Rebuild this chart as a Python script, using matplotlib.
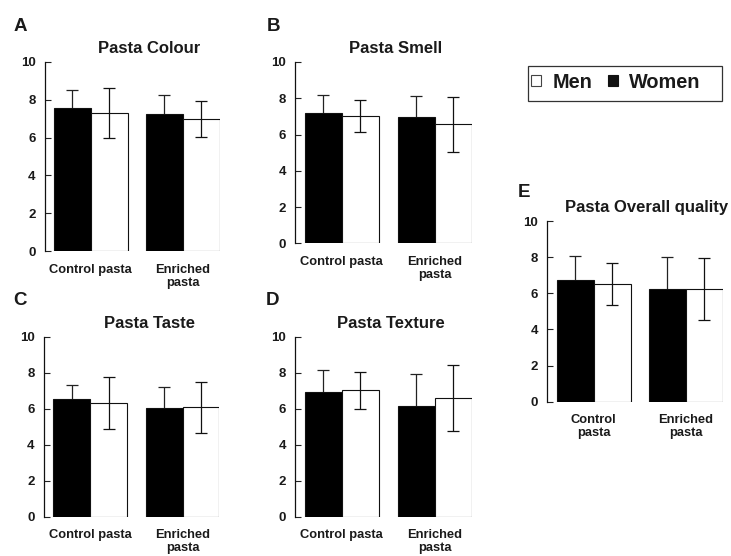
import matplotlib
matplotlib.use("Agg")
import matplotlib.pyplot as plt
from matplotlib.patches import Patch, Rectangle
import matplotlib.transforms as mtransforms
import numpy as np

plt.rcParams['font.family'] = ['Liberation Sans', 'DejaVu Sans']
plt.rcParams['font.weight'] = 'bold'

# ---------------- data ----------------
panel_letters = ["A", "B", "C", "D", "E"]
panel_titles = ["Pasta Colour", "Pasta Smell", "Pasta Taste", "Pasta Texture",
                "Pasta Overall quality"]
tick_labels_short = ["Control pasta", "Enriched\npasta"]
tick_labels_e = ["Control\npasta", "Enriched\npasta"]
series_names = ["Men", "Women"]

# Women (black bars)
women_colour = [7.55, 7.23]
women_colour_err = [0.95, 1.00]
women_smell = [7.20, 6.97]
women_smell_err = [1.00, 1.17]
women_taste = [6.54, 6.02]
women_taste_err = [0.77, 1.20]
women_texture = [6.91, 6.13]
women_texture_err = [1.22, 1.78]
women_overall = [6.73, 6.24]
women_overall_err = [1.35, 1.77]

# Men (white bars)
men_colour = [7.28, 6.97]
men_colour_err = [1.32, 0.96]
men_smell = [7.00, 6.56]
men_smell_err = [0.88, 1.50]
men_taste = [6.31, 6.07]
men_taste_err = [1.43, 1.42]
men_texture = [7.02, 6.61]
men_texture_err = [1.02, 1.83]
men_overall = [6.51, 6.24]
men_overall_err = [1.17, 1.72]

y_ticks = [0, 2, 4, 6, 8, 10]

# ---------------- layout ----------------
W, H = 731, 556
fig = plt.figure(figsize=(W / 100, H / 100), dpi=100)

# (left, bottom, width, height) in pixels, top-origin bottom
boxes = [
    (44.5, 251.0, 175.0, 189.0),
    (295.0, 243.3, 177.0, 181.3),
    (43.5, 516.7, 176.0, 180.0),
    (295.0, 516.7, 177.0, 180.0),
    (547.3, 401.7, 175.5, 180.7),
]
title_x = [0.60, 0.57, 0.60, 0.54, 0.565]
letter_pos = [(13.5, 30.7), (266.5, 30.7), (13.5, 305.0), (266.0, 305.0), (518.0, 196.7)]

women_all = [women_colour, women_smell, women_taste, women_texture, women_overall]
women_err_all = [women_colour_err, women_smell_err, women_taste_err,
                 women_texture_err, women_overall_err]
men_all = [men_colour, men_smell, men_taste, men_texture, men_overall]
men_err_all = [men_colour_err, men_smell_err, men_taste_err,
               men_texture_err, men_overall_err]
xlabels_all = [tick_labels_short] * 4 + [tick_labels_e]

txt = '#1a1a1a'
w = 0.4
x = np.arange(2)

for i in range(5):
    l, b, wd, ht = boxes[i]
    ax = fig.add_axes([l / W, 1 - b / H, wd / W, ht / H])
    ax.errorbar(x - w / 2, women_all[i], yerr=women_err_all[i], fmt='none',
                ecolor='#222222', elinewidth=0.9, capsize=4, capthick=0.9, zorder=1)
    ax.bar(x - w / 2, women_all[i], w, color='black', edgecolor='#111111',
           linewidth=0.8, zorder=2)
    ax.bar(x + w / 2, men_all[i], w, color='white', edgecolor='#111111',
           linewidth=0.8, zorder=2)
    ax.errorbar(x + w / 2, men_all[i], yerr=men_err_all[i], fmt='none',
                ecolor='#111111', elinewidth=0.9, capsize=4, capthick=0.9, zorder=3)
    ax.set_ylim(0, 10)
    ax.set_xlim(-w - 0.103, 1 + w)
    ax.set_yticks(y_ticks)
    ax.set_yticklabels([str(t) for t in y_ticks], fontsize=9.5, fontweight='bold', color=txt)
    ax.set_xticks(x)
    ax.set_xticklabels(xlabels_all[i], fontsize=9.3, fontweight='bold', color=txt,
                       linespacing=1.12)
    ax.tick_params(axis='y', direction='in', length=4, width=0.8, pad=6.5, colors='#222222')
    ax.tick_params(axis='y', labelcolor=txt)
    ax.tick_params(axis='x', length=0, pad=9)
    for s in ['top', 'right', 'bottom']:
        ax.spines[s].set_visible(False)
    ax.spines['left'].set_linewidth(0.9)
    ax.spines['left'].set_color('#111111')
    offs = mtransforms.offset_copy(ax.transAxes, fig=fig, x=0, y=9, units='dots')
    ax.text(title_x[i], 1.0, panel_titles[i], transform=offs, ha='center',
            va='baseline', fontsize=12, fontweight='bold', color=txt)
    lx, ly = letter_pos[i]
    fig.text(lx / W, 1 - ly / H, panel_letters[i], ha='left', va='baseline',
             fontsize=13.5, fontweight='bold', color=txt)

# legend box
fig.patches.append(Rectangle((528.3 / W, 1 - 101.0 / H), (721.7 - 528.3) / W, 35.3 / H,
                             transform=fig.transFigure, facecolor='white',
                             edgecolor='#333333', linewidth=0.9, zorder=0))
handles = [Patch(facecolor='white', edgecolor='#444444', linewidth=0.8),
           Patch(facecolor='#111111', edgecolor='#111111', linewidth=0.8)]
leg = fig.legend(handles, series_names, loc='center left',
                 bbox_to_anchor=(531 / W, 1 - 82.0 / H), ncol=2,
                 prop={'family': ['Liberation Sans'], 'weight': 'bold', 'size': 14.3},
                 handlelength=0.52, handleheight=0.52, handletextpad=0.55,
                 columnspacing=0.8, borderpad=0.0, borderaxespad=0.0,
                 frameon=False)
for t in leg.get_texts():
    t.set_color(txt)

fig.savefig("out.png", dpi=100)
